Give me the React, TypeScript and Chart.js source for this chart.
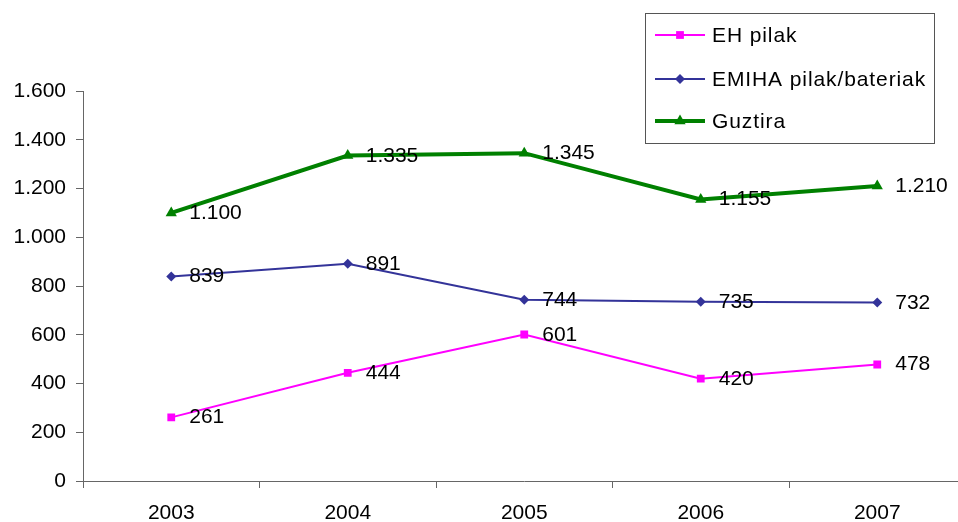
import React, { useEffect, useRef } from "react";
import { Chart, registerables } from "chart.js";

Chart.register(...registerables);

const years = ["2003", "2004", "2005", "2006", "2007"];
const ehPilak = [261, 444, 601, 420, 478];
const emihaPilak = [839, 891, 744, 735, 732];
const guztira = [1100, 1335, 1345, 1155, 1210];
const seriesNames = ["EH pilak", "EMIHA pilak/bateriak", "Guztira"];
const yMin = 0;
const yMax = 1600;
const yStep = 200;

const FONT = "'Liberation Sans', Arial, sans-serif";

const fmt = (v: number) => String(Math.round(v)).replace(/\B(?=(\d{3})+(?!\d))/g, ".");

function drawMarker(ctx: CanvasRenderingContext2D, style: string, x: number, y: number, r: number, color: string) {
  ctx.save();
  ctx.fillStyle = color;
  ctx.beginPath();
  if (style === "rect") {
    const s = r * Math.SQRT1_2;
    ctx.rect(x - s, y - s, 2 * s, 2 * s);
  } else if (style === "rectRot") {
    ctx.moveTo(x, y - r);
    ctx.lineTo(x + r, y);
    ctx.lineTo(x, y + r);
    ctx.lineTo(x - r, y);
    ctx.closePath();
  } else {
    const a = (2 * Math.PI) / 3;
    ctx.moveTo(x, y - r);
    ctx.lineTo(x + Math.sin(a) * r, y - Math.cos(a) * r);
    ctx.lineTo(x + Math.sin(2 * a) * r, y - Math.cos(2 * a) * r);
    ctx.closePath();
  }
  ctx.fill();
  ctx.restore();
}

const valueLabels = {
  id: "valueLabels",
  afterDatasetsDraw(chart: any) {
    const ctx = chart.ctx as CanvasRenderingContext2D;
    ctx.save();
    ctx.font = `21px ${FONT}`;
    ctx.fillStyle = "#000";
    ctx.textAlign = "left";
    ctx.textBaseline = "alphabetic";
    chart.data.datasets.forEach((ds: any, i: number) => {
      const meta = chart.getDatasetMeta(i);
      meta.data.forEach((pt: any, j: number) => {
        ctx.fillText(fmt(ds.data[j]), pt.x + 18, pt.y + 6);
      });
    });
    ctx.restore();
  },
};

const boxLegend = {
  id: "boxLegend",
  afterDraw(chart: any) {
    const ctx = chart.ctx as CanvasRenderingContext2D;
    ctx.save();
    ctx.fillStyle = "#fff";
    ctx.fillRect(645.5, 13.5, 289, 130);
    ctx.strokeStyle = "#555";
    ctx.lineWidth = 1;
    ctx.strokeRect(645.5, 13.5, 289, 130);
    const rows = [35, 79, 121];
    chart.data.datasets.forEach((ds: any, i: number) => {
      const y = rows[i];
      ctx.strokeStyle = ds.borderColor;
      ctx.lineWidth = ds.borderWidth;
      ctx.beginPath();
      ctx.moveTo(655, y);
      ctx.lineTo(705, y);
      ctx.stroke();
      drawMarker(ctx, ds.pointStyle, 680, y, ds.pointRadius, ds.pointBackgroundColor);
      ctx.fillStyle = "#000";
      ctx.font = `21px ${FONT}`;
      (ctx as any).letterSpacing = "0.9px";
      ctx.textBaseline = "middle";
      ctx.textAlign = "left";
      ctx.fillText(ds.label, 712, y + 1);
      (ctx as any).letterSpacing = "0px";
    });
    ctx.restore();
  },
};

export default function App() {
  const ref = useRef<HTMLCanvasElement | null>(null);
  useEffect(() => {
    if (!ref.current) return;
    const axisColor = "#666";
    const chart = new Chart(ref.current, {
      type: "line",
      data: {
        labels: years,
        datasets: [
          {
            label: seriesNames[0],
            data: ehPilak,
            borderColor: "#FF00FF",
            backgroundColor: "#FF00FF",
            pointBackgroundColor: "#FF00FF",
            pointBorderColor: "#FF00FF",
            borderWidth: 2,
            pointStyle: "rect",
            pointRadius: 5.5,
            pointBorderWidth: 0,
            tension: 0,
          },
          {
            label: seriesNames[1],
            data: emihaPilak,
            borderColor: "#333399",
            backgroundColor: "#333399",
            pointBackgroundColor: "#333399",
            pointBorderColor: "#333399",
            borderWidth: 2,
            pointStyle: "rectRot",
            pointRadius: 5,
            pointBorderWidth: 0,
            tension: 0,
          },
          {
            label: seriesNames[2],
            data: guztira,
            borderColor: "#008000",
            backgroundColor: "#008000",
            pointBackgroundColor: "#008000",
            pointBorderColor: "#008000",
            borderWidth: 4,
            pointStyle: "triangle",
            pointRadius: 6.5,
            pointBorderWidth: 0,
            tension: 0,
          },
        ] as any,
      },
      options: {
        animation: false,
        responsive: false,
        maintainAspectRatio: false,
        layout: { padding: { top: 91, right: 14.5, left: 0, bottom: 0 } },
        plugins: { legend: { display: false }, tooltip: { enabled: false } },
        scales: {
          x: {
            type: "category",
            offset: true,
            grid: {
              offset: true,
              drawOnChartArea: false,
              drawTicks: true,
              tickLength: 7,
              color: axisColor,
            },
            border: { color: axisColor, width: 1 },
            ticks: { color: "#000", font: { family: FONT, size: 21 }, padding: 13, maxRotation: 0 },
            afterFit: (s: any) => {
              s.height = 41;
            },
          },
          y: {
            min: yMin,
            max: yMax,
            grid: { drawOnChartArea: false, drawTicks: true, tickLength: 7, color: axisColor },
            border: { color: axisColor, width: 1 },
            ticks: {
              stepSize: yStep,
              color: "#000",
              font: { family: FONT, size: 21 },
              padding: 10,
              callback: (v: any) => fmt(Number(v)),
            },
            afterFit: (s: any) => {
              s.width = 83;
            },
          },
        },
      } as any,
      plugins: [valueLabels, boxLegend],
    });
    return () => chart.destroy();
  }, []);
  return (
    <div style={{ position: "fixed", left: 0, top: 0, width: 958, height: 522, overflow: "hidden", background: "#fff" }}>
      <canvas ref={ref} width={980} height={522} style={{ display: "block" }} />
    </div>
  );
}
